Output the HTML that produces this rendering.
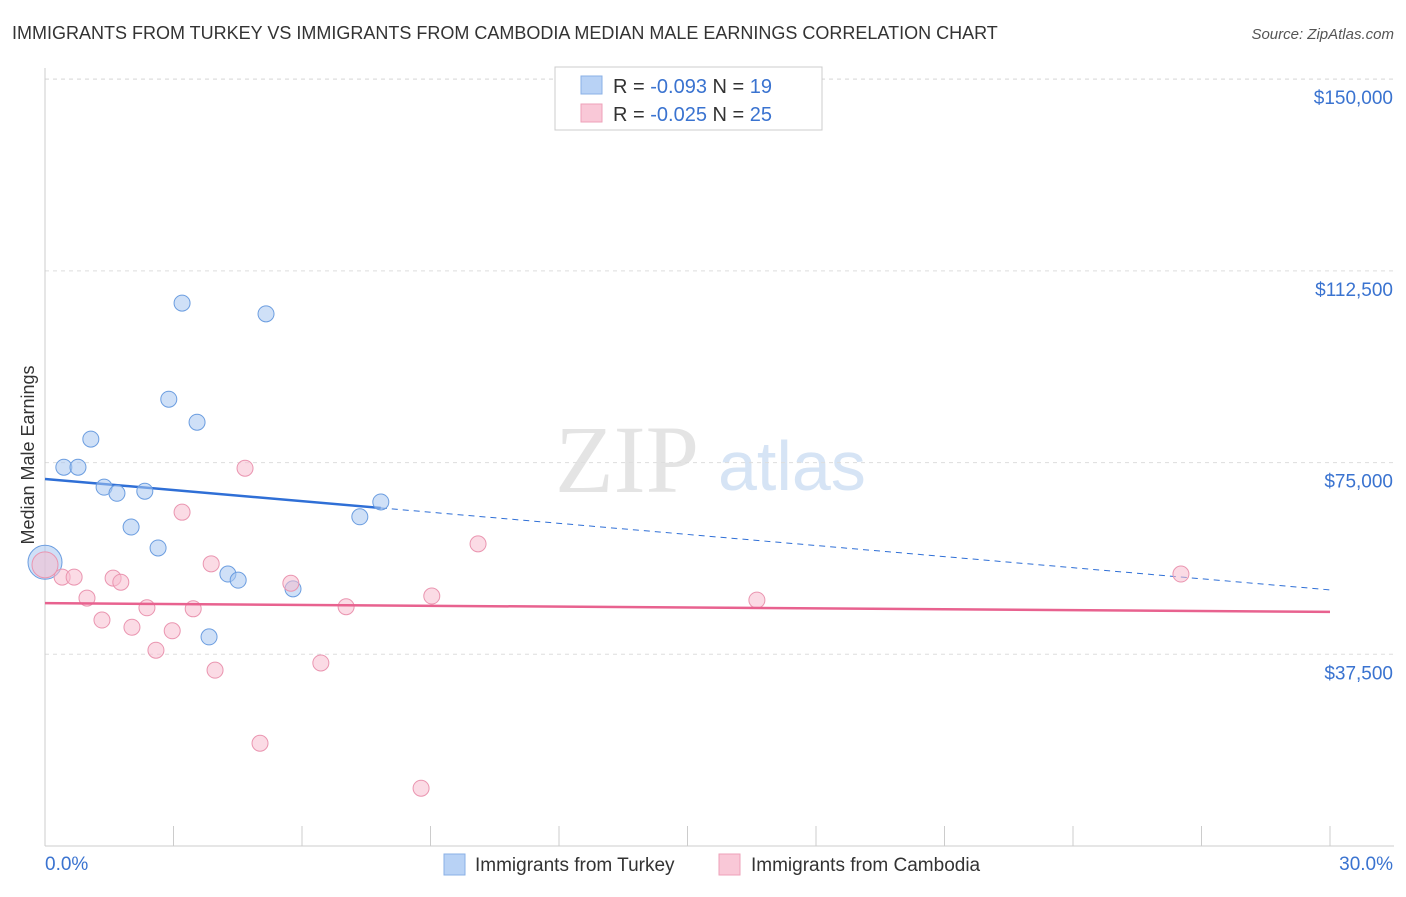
<!DOCTYPE html>
<html><head><meta charset="utf-8"><style>
body{margin:0;background:#fff;font-family:"Liberation Sans",sans-serif;}
</style></head><body>
<svg width="1406" height="892" xmlns="http://www.w3.org/2000/svg" font-family="Liberation Sans, sans-serif">
<text x="12" y="39" font-size="18" fill="#333">IMMIGRANTS FROM TURKEY VS IMMIGRANTS FROM CAMBODIA MEDIAN MALE EARNINGS CORRELATION CHART</text>
<text x="1394" y="39" font-size="15" fill="#555" font-style="italic" text-anchor="end">Source: ZipAtlas.com</text>
<text x="555" y="492" font-size="96" fill="#e4e4e4" font-family="Liberation Serif, serif">ZIP</text>
<text x="718" y="490" font-size="70" fill="#d6e4f5">atlas</text>
<g id="grid"></g>
<g id="axes"></g>
<text transform="translate(34,455) rotate(-90)" font-size="18" fill="#333" text-anchor="middle">Median Male Earnings</text>
<g id="marks"></g>
<g>
<rect x="555" y="67" width="267" height="63" fill="#fff" stroke="#ccc"/>
<rect x="581" y="76" width="21" height="18" fill="#b8d2f5" stroke="#8ab0e6"/>
<rect x="581" y="104" width="21" height="18" fill="#f9c8d7" stroke="#eea1b8"/>
<text x="613" y="93" font-size="20" fill="#333">R = <tspan fill="#3a73d0">-0.093</tspan>   N = <tspan fill="#3a73d0">19</tspan></text>
<text x="613" y="121" font-size="20" fill="#333">R = <tspan fill="#3a73d0">-0.025</tspan>   N = <tspan fill="#3a73d0">25</tspan></text>
</g>
<g>
<rect x="444" y="854" width="21" height="21" fill="#b8d2f5" stroke="#8ab0e6"/>
<text x="475" y="871" font-size="19" fill="#333">Immigrants from Turkey</text>
<rect x="719" y="854" width="21" height="21" fill="#f9c8d7" stroke="#eea1b8"/>
<text x="751" y="871" font-size="19" fill="#333">Immigrants from Cambodia</text>
</g>
</svg>
<script>
const yTicks=[37500,75000,112500,150000];
const yTickLabels=["$37,500","$75,000","$112,500","$150,000"];
const xTickLabels=["0.0%","30.0%"];
const turkeyX=[0,0.44,0.77,1.07,1.38,1.68,2.33,2.01,2.64,2.89,3.20,3.55,3.83,4.27,4.51,5.16,5.79,7.35,7.84];
const turkeyY=[55500,74100,74100,79600,70200,69000,69400,62400,58300,87400,106200,82900,40900,53200,52000,104100,50300,64400,67300];
const cambodiaX=[0,0.40,0.68,0.98,1.33,1.59,1.77,2.03,2.38,2.59,2.97,3.20,3.46,3.88,3.97,4.67,5.02,5.74,6.44,7.03,8.78,9.03,10.11,16.62,26.52];
const cambodiaY=[55000,52600,52600,48500,44200,52400,51600,42800,46600,38300,42100,65300,46400,55200,34400,73900,20100,51400,35800,46800,11300,48900,59100,48100,53200];
const turkeyTrend=[71800,50100];
const cambodiaTrend=[47500,45800];
const NS="http://www.w3.org/2000/svg";
const X=p=>45+p/30*1285;
const Y=v=>846-v/37500*191.7;
function mk(tag,attrs,parent){const e=document.createElementNS(NS,tag);for(const k in attrs)e.setAttribute(k,attrs[k]);document.getElementById(parent).appendChild(e);return e;}
yTicks.forEach((v,i)=>{
 const l=mk('line',{x1:45,x2:1394,y1:Y(v),y2:Y(v),stroke:'#ddd','stroke-dasharray':'4,4'},'grid');
 
 
 const t=mk('text',{x:1393,y:Y(v)+25,'font-size':19,fill:'#3a73d0','text-anchor':'end'},'axes');
 t.textContent=yTickLabels[i];
 
 
});
mk('line',{x1:45,x2:1394,y1:79,y2:79,stroke:'#ddd','stroke-dasharray':'4,4'},'grid');
mk('line',{x1:45,x2:45,y1:68,y2:846,stroke:'#ccc'},'axes');
mk('line',{x1:45,x2:1394,y1:846,y2:846,stroke:'#ccc'},'axes');
for(let i=0;i<=10;i++){const tk=mk('line',{x1:X(i*3),x2:X(i*3),y1:826,y2:846,stroke:'#ccc'},'axes');
 
 }
[[0,45,'start'],[1,1393,'end']].forEach(([i,x,a])=>{const t=mk('text',{x:x,y:870,'font-size':19,fill:'#3a73d0','text-anchor':a},'axes');t.textContent=xTickLabels[i];
 
 });
// trend lines
const tb=v=>turkeyTrend[0]+(turkeyTrend[1]-turkeyTrend[0])*v/30;
let l1=mk('line',{x1:X(0),y1:Y(tb(0)),x2:X(7.84),y2:Y(tb(7.84)),stroke:'#2f6fd6','stroke-width':2.5},'marks');


let l2=mk('line',{x1:X(7.84),y1:Y(tb(7.84)),x2:X(30),y2:Y(tb(30)),stroke:'#2f6fd6','stroke-width':1,'stroke-dasharray':'6,5'},'marks');


turkeyX.forEach((x,i)=>{const c=mk('circle',{cx:X(x),cy:Y(turkeyY[i]),r:i==0?17:8,fill:'rgba(168,198,240,0.55)',stroke:'#6b9de0','stroke-width':1},'marks');
 
 });
cambodiaX.forEach((x,i)=>{const c=mk('circle',{cx:X(x),cy:Y(cambodiaY[i]),r:i==0?13:8,fill:'rgba(248,190,208,0.55)',stroke:'#ea95b0','stroke-width':1},'marks');
 
 });
let l3=mk('line',{x1:X(0),y1:Y(cambodiaTrend[0]),x2:X(30),y2:Y(cambodiaTrend[1]),stroke:'#e8628f','stroke-width':2.5},'marks');


</script>
</body></html>
